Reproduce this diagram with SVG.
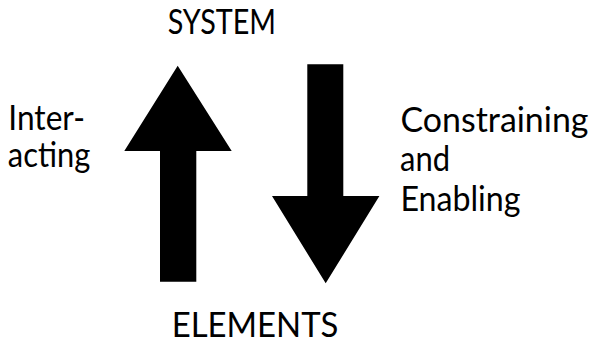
<svg xmlns="http://www.w3.org/2000/svg" width="592" height="341" viewBox="0 0 592 341">
<style>
text{font-family:"Lato","Liberation Sans",sans-serif;font-size:35px;fill:#000}
.arrow{fill:#000}
</style>
<rect width="592" height="341" fill="#fff"/>
<g id="system"><text x="167.7" y="34" textLength="108.3" lengthAdjust="spacingAndGlyphs">SYSTEM</text></g>
<g id="elements"><text x="171.7" y="336.8" textLength="166.6" lengthAdjust="spacingAndGlyphs">ELEMENTS</text></g>
<g id="interacting">
<text x="8.3" y="130" textLength="76.7" lengthAdjust="spacingAndGlyphs">Inter-</text>
<text x="7.8" y="167" textLength="82.5" lengthAdjust="spacingAndGlyphs">acting</text>
</g>
<g id="constraining">
<text x="400.5" y="132" textLength="188" lengthAdjust="spacingAndGlyphs">Constraining</text>
<text x="400" y="171" textLength="50" lengthAdjust="spacingAndGlyphs">and</text>
<text x="400.5" y="210.5" textLength="120" lengthAdjust="spacingAndGlyphs">Enabling</text>
</g>
<g id="connectors">
<polygon class="arrow" points="177.7,65.7 231.7,151 196.3,151 196.3,281.7 160,281.7 160,151 124.3,151"/>
<polygon class="arrow" points="307.3,64.3 343.3,64.3 343.3,196 379.4,196 325.7,283.3 272,196 307.3,196"/>
</g>
</svg>
